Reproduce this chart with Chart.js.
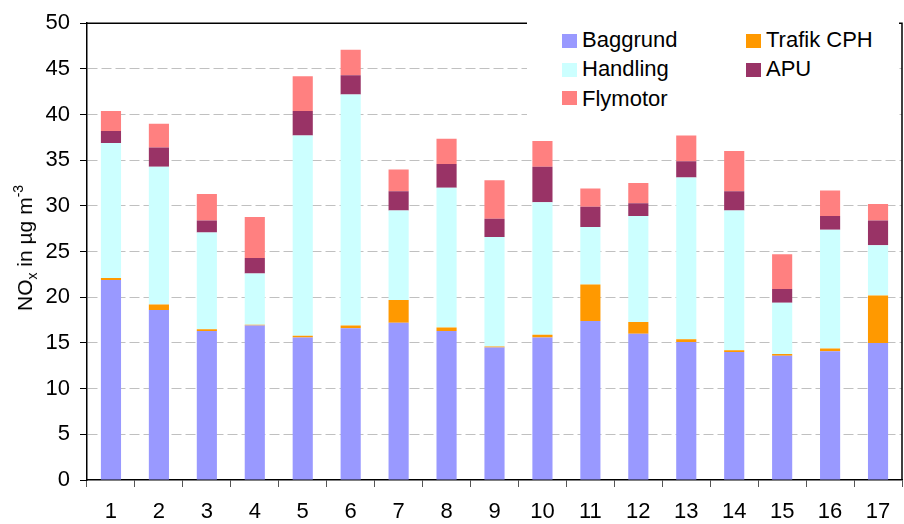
<!DOCTYPE html>
<html><head><meta charset="utf-8">
<script src="https://cdn.jsdelivr.net/npm/chart.js@4"></script>
<style>
html,body{margin:0;padding:0;background:#fff;}
#wrap{position:relative;width:904px;height:524px;font-family:"Liberation Sans",Arial,sans-serif;color:#000;}
canvas{position:absolute;left:0;top:0;}
#ytitle{position:absolute;left:26px;top:248px;transform:translate(-50%,-50%) rotate(-90deg);white-space:nowrap;font-size:21px;line-height:21px;}
#ytitle .sub{font-size:14px;position:relative;top:5px;}
#ytitle .sup{font-size:14px;position:relative;top:-9px;}
#legend{position:absolute;left:527px;top:20px;width:372px;height:106px;background:#fff;}
.item{position:absolute;font-size:22px;line-height:22px;white-space:nowrap;}
.sw{position:absolute;width:15px;height:14px;}
</style></head>
<body><div id="wrap"><canvas id="c" width="904" height="524"></canvas>
<div id="ytitle">NO<span class="sub">x</span> in µg m<span class="sup">-3</span></div>
<div id="legend"></div></div>
<script>
const categories = ["1","2","3","4","5","6","7","8","9","10","11","12","13","14","15","16","17"];
const baggrund = [21.9,18.6,16.3,16.9,15.6,16.6,17.2,16.3,14.5,15.6,17.4,16.0,15.1,14.0,13.6,14.1,15.0];
const trafikCPH = [0.2,0.6,0.2,0.1,0.2,0.3,2.5,0.4,0.1,0.3,4.0,1.3,0.3,0.2,0.2,0.3,5.2];
const handling = [14.8,15.1,10.6,5.6,21.9,25.3,9.8,15.3,12.0,14.5,6.3,11.6,17.7,15.3,5.6,13.0,5.5];
const apu = [1.3,2.1,1.3,1.7,2.7,2.1,2.1,2.6,2.0,3.9,2.2,1.4,1.8,2.1,1.5,1.5,2.7];
const flymotor = [2.2,2.6,2.9,4.5,3.8,2.8,2.4,2.75,4.2,2.8,2.0,2.2,2.8,4.4,3.8,2.8,1.8];
const seriesNames = ["Baggrund","Trafik CPH","Handling","APU","Flymotor"];
const yTicks = [0,5,10,15,20,25,30,35,40,45,50];

const colors = ["#9999FF","#FF9900","#CCFFFF","#993366","#FF8080"];
const seriesData = [baggrund,trafikCPH,handling,apu,flymotor];
const FONT = "'Liberation Sans', Arial, sans-serif";

const frame = {
  id:'frame',
  afterDraw(chart){
    const a = chart.chartArea, ctx = chart.ctx;
    ctx.save();
    ctx.strokeStyle = '#000'; ctx.lineWidth = 1.5;
    ctx.beginPath();
    ctx.moveTo(a.left, a.top); ctx.lineTo(a.right, a.top); ctx.lineTo(a.right, a.bottom);
    ctx.stroke();
    ctx.restore();
  }
};

const chart = new Chart(document.getElementById('c'), {
  type:'bar',
  data:{
    labels:categories,
    datasets: seriesNames.map((n,i)=>({label:n,data:seriesData[i],backgroundColor:colors[i],borderWidth:0}))
  },
  options:{
    responsive:false, animation:false, devicePixelRatio:1,
    layout:{padding:{top:18,right:2,left:0,bottom:0}},
    plugins:{legend:{display:false},tooltip:{enabled:false}},
    datasets:{bar:{categoryPercentage:1,barPercentage:0.42}},
    scales:{
      x:{
        stacked:true,
        grid:{display:true,drawOnChartArea:false,drawTicks:true,tickLength:7,tickColor:'#555',offset:true},
        border:{display:true,color:'#000',width:1.5},
        ticks:{color:'#000',font:{size:22,family:FONT},padding:12,maxRotation:0,autoSkip:false},
        afterFit(s){ s.height = 44; }
      },
      y:{
        stacked:true,min:0,max:50,
        afterBuildTicks(s){ s.ticks = yTicks.map(v=>({value:v})); },
        ticks:{color:'#000',font:{size:22,family:FONT},padding:10},
        grid:{
          color:(c)=> (c.tick && (c.tick.value===0||c.tick.value===50)) ? 'rgba(0,0,0,0)' : '#c0c0c0',
          tickColor:'#000',tickLength:7,lineWidth:1
        },
        border:{display:true,color:'#000',width:1.5,dash:[10,4]},
        afterFit(s){ s.width = 87; }
      }
    }
  },
  plugins:[frame]
});

// legend (HTML, 2 columns)
const leg = document.getElementById('legend');
const pos = [[0,0],[1,0],[0,1],[1,1],[0,2]];
seriesNames.forEach((n,i)=>{
  const [col,row] = pos[i];
  const sx = col===0 ? 35 : 219, tx = col===0 ? 55 : 239;
  const sy = 14 + row*28.7, ty = 8.5 + row*29.5;
  const sw = document.createElement('div');
  sw.className='sw'; sw.style.left=sx+'px'; sw.style.top=sy+'px'; sw.style.background=colors[i];
  const t = document.createElement('div');
  t.className='item'; t.style.left=tx+'px'; t.style.top=ty+'px'; t.textContent=n;
  leg.appendChild(sw); leg.appendChild(t);
});
</script>
</body></html>
